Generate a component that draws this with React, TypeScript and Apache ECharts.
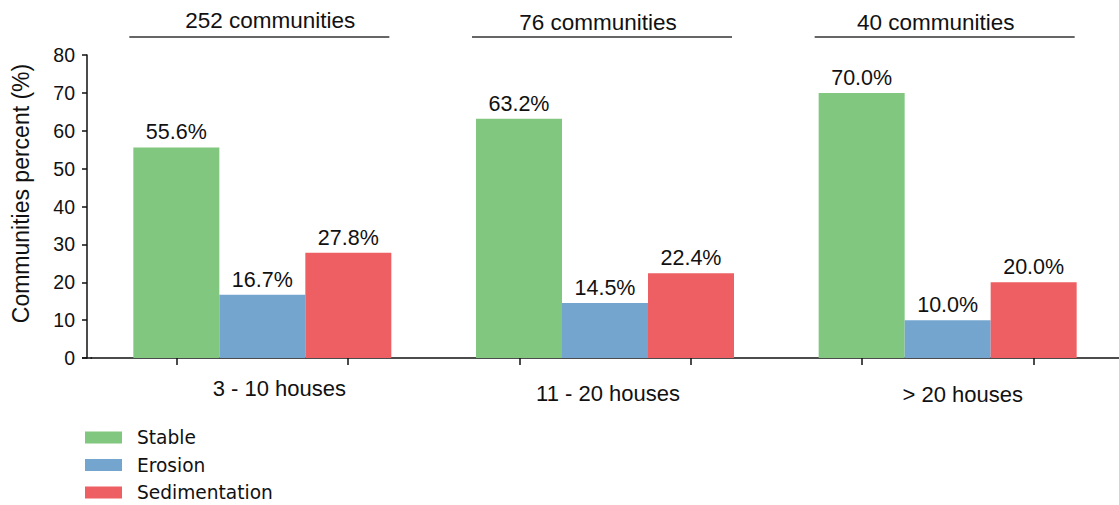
import React, { useEffect, useRef } from "react";
import * as echarts from "echarts";

const categories = ["3 - 10 houses", "11 - 20 houses", "> 20 houses"];
const communities = ["252 communities", "76 communities", "40 communities"];
const stable = [55.6, 63.2, 70.0];
const erosion = [16.7, 14.5, 10.0];
const sedimentation = [27.8, 22.4, 20.0];
const seriesNames = ["Stable", "Erosion", "Sedimentation"];
const colors = ["#82C77F", "#74A5CF", "#EE5F63"];

// layout tweaks (pixel offsets of annotation texts)
const catLabelShift = [
  { dx: 17, dy: 0 },
  { dx: 3, dy: 5 },
  { dx: 15, dy: 6 },
];
const headerShift = [8, -7, -12];

const FONT = "Liberation Sans, Arial, sans-serif";

export default function App() {
  const ref = useRef<HTMLDivElement>(null);
  useEffect(() => {
    if (!ref.current) return;
    const chart = echarts.init(ref.current, null, { renderer: "svg" });
    const mkSeries = (name: string, data: number[], color: string) => ({
      name,
      type: "bar",
      data,
      barWidth: 86,
      barGap: "0%",
      itemStyle: { color },
      label: {
        show: true,
        position: "top",
        distance: 4,
        formatter: (p: any) => Number(p.value).toFixed(1) + "%",
        fontFamily: FONT,
        fontSize: 21.5,
        color: "#111",
      },
    });
    chart.setOption({
      animation: false,
      backgroundColor: "#fff",
      grid: { left: 91, top: 55, width: 1032, height: 303 },
      legend: {
        orient: "vertical",
        left: 85,
        top: 428,
        height: 100,
        padding: 0,
        itemWidth: 37,
        itemHeight: 12,
        itemGap: 8.5,
        icon: "rect",
        textStyle: { fontFamily: "DejaVu Sans", fontSize: 18.6, color: "#111", padding: [0, 0, 0, 10] },
        data: seriesNames,
      },
      xAxis: [
        {
          type: "category",
          data: categories.map((c, i) => ({
            value: c,
            textStyle: {
              padding: [catLabelShift[i].dy, 0, 0, catLabelShift[i].dx * 2],
            },
          })),
          axisLine: { show: true, lineStyle: { color: "#111", width: 1.5 } },
          axisTick: { show: false },
          axisLabel: { fontFamily: FONT, fontSize: 22, color: "#111", margin: 19 },
        },
        {
          type: "category",
          position: "bottom",
          data: ["", "", "", "", "", ""],
          axisLine: { show: false },
          axisTick: { show: true, alignWithLabel: true, length: 7, lineStyle: { color: "#111", width: 1.5 } },
          axisLabel: { show: false },
        },
      ],
      yAxis: {
        type: "value",
        min: 0,
        max: 80,
        interval: 10,
        offset: 4,
        name: "Communities percent (%)",
        nameLocation: "middle",
        nameGap: 55,
        nameTextStyle: { fontFamily: FONT, fontSize: 23, color: "#111", padding: [0, 0, 0, 26] },
        axisLine: { show: true, lineStyle: { color: "#111", width: 1.5 } },
        axisTick: { show: true, length: 5, lineStyle: { color: "#111", width: 1.5 } },
        splitLine: { show: false },
        axisLabel: { fontFamily: FONT, fontSize: 19.5, color: "#111", margin: 12 },
      },
      series: [
        mkSeries(seriesNames[0], stable, colors[0]),
        mkSeries(seriesNames[1], erosion, colors[1]),
        mkSeries(seriesNames[2], sedimentation, colors[2]),
      ],
    });

    const y0 = chart.convertToPixel({ yAxisIndex: 0 }, 0) as number;
    const graphics: any[] = [
      {
        type: "line",
        shape: { x1: 82, y1: y0, x2: 92, y2: y0 },
        style: { stroke: "#111", lineWidth: 1.5 },
      },
    ];
    categories.forEach((c, i) => {
      const cx = chart.convertToPixel({ xAxisIndex: 0 }, c) as number;
      graphics.push({
        type: "line",
        shape: { x1: cx - 133, y1: 37, x2: cx + 127, y2: 37 },
        style: { stroke: "#333", lineWidth: 1.6 },
      });
      graphics.push({
        type: "text",
        x: cx + headerShift[i],
        y: 20 + (i === 0 ? 0 : 2),
        style: {
          text: communities[i],
          fontFamily: FONT,
          fontSize: 22.5,
          fill: "#111",
          align: "center",
          verticalAlign: "middle",
        },
      });
    });
    chart.setOption({ graphic: graphics });
    return () => chart.dispose();
  }, []);
  return (
    <div
      ref={ref}
      style={{ position: "absolute", left: 0, top: 0, width: 1119, height: 505 }}
    />
  );
}
